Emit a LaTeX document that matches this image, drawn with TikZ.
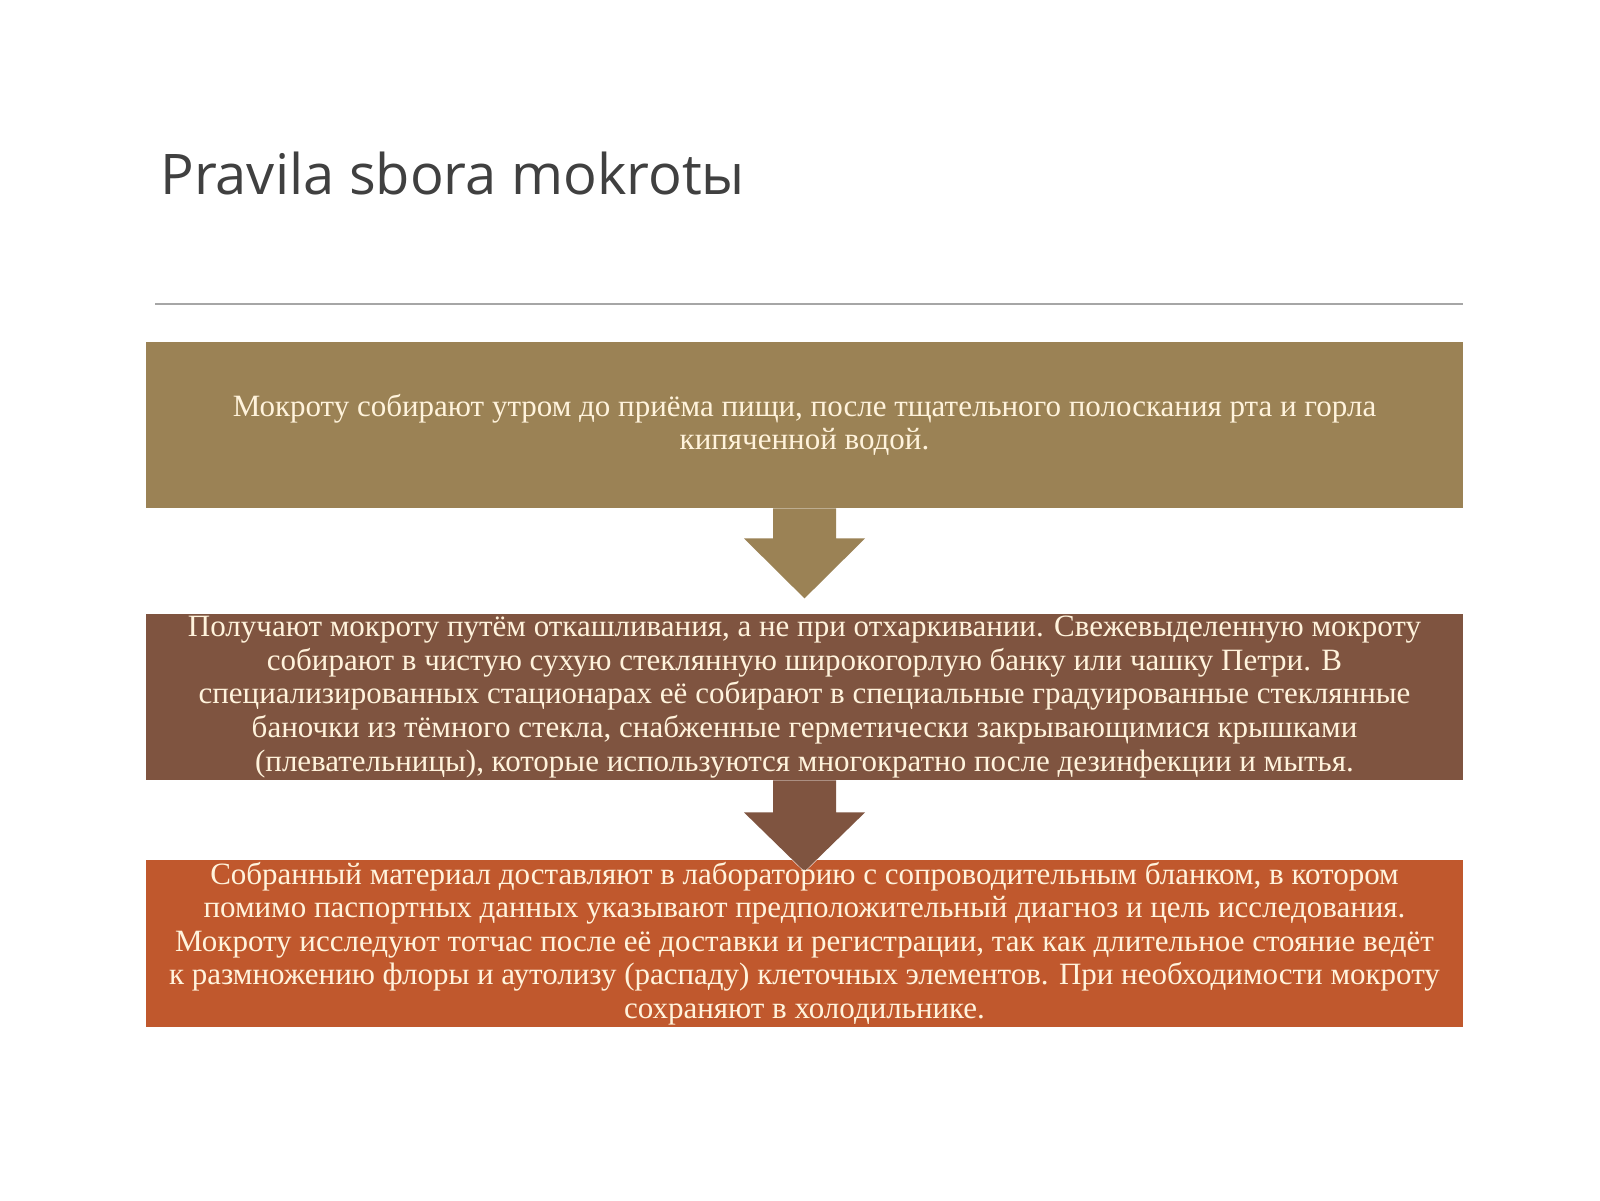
\documentclass[tikz,border=0pt]{standalone}
\usepackage{fontspec}
\setmainfont{Liberation Serif}
\newfontfamily\titlefont{Open Sans}
\usetikzlibrary{positioning, backgrounds, calc}
\definecolor{stepOne}{HTML}{9B8255}
\definecolor{stepTwo}{HTML}{7F5440}
\definecolor{stepThree}{HTML}{C0582D}
\definecolor{boxtext}{HTML}{FFF3DC}
\definecolor{titlegray}{HTML}{404040}
\definecolor{rulegray}{HTML}{A6A6A6}

\begin{document}
\begin{tikzpicture}[
  x=0.5pt, y=-0.5pt,
  box/.style   = {rectangle, minimum width=658.5pt, minimum height=83pt, inner sep=0pt,
                  align=center, text=boxtext, font=\fontsize{15.5}{16.8}\selectfont},
  title/.style = {anchor=base west, inner sep=0pt, text=titlegray,
                  font=\titlefont\fontsize{28}{34}\selectfont},
  rim/.style   = {draw=white, line width=0.5pt},
  ]
  \useasboundingbox (0,0) rectangle (1600,1200);

  % Title and rule
  \node (title) at (160,194) [title] {Pravila sbora mokrotы};
  \coordinate (ruleL) at (155,304);
  \coordinate (ruleR) at (1463,304);
  \draw[rulegray, line width=1pt] (ruleL) -- (ruleR);

  % Steps
  \node (one)   at (804.5,425)   [box] {Мокроту собирают утром до приёма пищи, после тщательного полоскания рта и горла\\
    кипяченной водой.};
  \node (two)   at (804.5,697)   [box] {Получают мокроту путём откашливания, а не при отхаркивании. Свежевыделенную мокроту\\
    собирают в чистую сухую стеклянную широкогорлую банку или чашку Петри. В\\
    специализированных стационарах её собирают в специальные градуированные стеклянные\\
    баночки из тёмного стекла, снабженные герметически закрывающимися крышками\\
    (плевательницы), которые используются многократно после дезинфекции и мытья.};
  \node (three) at (804.5,943.5) [box] {Собранный материал доставляют в лабораторию с сопроводительным бланком, в котором\\
    помимо паспортных данных указывают предположительный диагноз и цель исследования.\\
    Мокроту исследуют тотчас после её доставки и регистрации, так как длительное стояние ведёт\\
    к размножению флоры и аутолизу (распаду) клеточных элементов. При необходимости мокроту\\
    сохраняют в холодильнике.};

  % Fills and block arrows behind the texts
  \begin{scope}[on background layer]
    \fill[white] (0,0) rectangle (1600,1200);
    \fill[stepOne]   (one.north west)   rectangle (one.south east);
    \fill[stepTwo]   (two.north west)   rectangle (two.south east);
    \fill[stepThree] (three.north west) rectangle (three.south east);

    \fill[stepOne] let \p1 = (one.south) in
      (\x1-15.75pt,\y1) -- (\x1-15.75pt,\y1-15pt) -- (\x1-30.25pt,\y1-15pt) -- (\x1,\y1-45pt)
      -- (\x1+30.25pt,\y1-15pt) -- (\x1+15.75pt,\y1-15pt) -- (\x1+15.75pt,\y1) -- cycle;
    \draw[stepTwo, rim] let \p1 = (two.south) in
      (\x1-15.75pt,\y1) -- (\x1-15.75pt,\y1-16pt) -- (\x1-30.25pt,\y1-16pt) -- (\x1,\y1-45.5pt)
      -- (\x1+30.25pt,\y1-16pt) -- (\x1+15.75pt,\y1-16pt) -- (\x1+15.75pt,\y1);
    \fill[stepTwo] let \p1 = (two.south) in
      (\x1-15.75pt,\y1) -- (\x1-15.75pt,\y1-16pt) -- (\x1-30.25pt,\y1-16pt) -- (\x1,\y1-45.5pt)
      -- (\x1+30.25pt,\y1-16pt) -- (\x1+15.75pt,\y1-16pt) -- (\x1+15.75pt,\y1) -- cycle;
  \end{scope}
\end{tikzpicture}
\end{document}
